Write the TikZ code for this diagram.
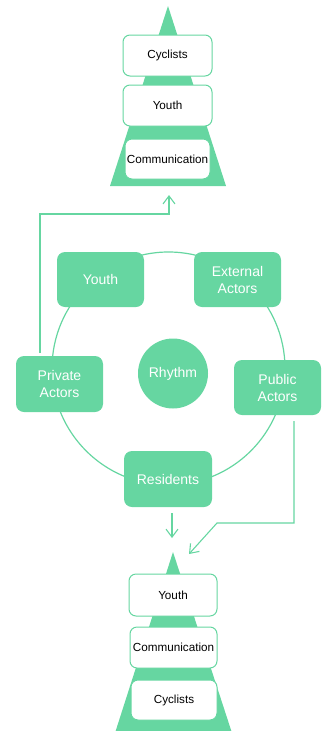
\documentclass[tikz,border=0pt]{standalone}
\usepackage{fontspec}
\setmainfont{Liberation Sans}
\usetikzlibrary{arrows.meta}
\definecolor{gr}{HTML}{66D6A1}
\tikzset{
  greenbox/.style={fill=gr, draw=none, rounded corners=8pt, text=white, font=\fontsize{14}{17}\selectfont, align=center, inner sep=0pt},
  whitebox/.style={fill=white, draw=gr, line width=1pt, rounded corners=7pt, text=black, font=\fontsize{11.7}{14}\selectfont, inner sep=0pt, minimum width=89pt, minimum height=41pt},
  conn/.style={draw=gr, line width=1.1pt, -{Straight Barb[length=8pt,width=12pt,line width=1.1pt]}},
  tri/.style={fill=gr, draw=none}
}
\begin{document}
\begin{tikzpicture}[x=1pt,y=-1pt]
\useasboundingbox (0,0) rectangle (323,731);
% top triangle
\fill[gr] (168,6) -- (226,186) -- (110,186) -- cycle;
\node[whitebox] (tc) at (167.5,55.5) {Cyclists};
\node[whitebox] (ty) at (167.5,105.5) {Youth};
\node[whitebox, minimum width=85pt, minimum height=40pt] (tm) at (167.5,159) {Communication};
% ring
\draw[gr, line width=1.2pt] (168.5,368.5) circle[radius=116.5];
\node[circle, fill=gr, text=white, font=\fontsize{14}{17}\selectfont, minimum size=70pt, inner sep=0pt] (rh) at (173,373.5) {Rhythm};
\node[greenbox, minimum width=87pt, minimum height=55pt] (yo) at (100.5,279.5) {Youth};
\node[greenbox, minimum width=87pt, minimum height=55pt] (ex) at (237.5,279.5) {External\\Actors};
\node[greenbox, minimum width=87pt, minimum height=56pt] (pr) at (59.5,384) {Private\\Actors};
\node[greenbox, minimum width=87pt, minimum height=55pt] (pu) at (277.5,387.5) {Public\\Actors};
\node[greenbox, minimum width=88pt, minimum height=56pt] (re) at (168,479) {Residents};
% bottom triangle
\fill[gr] (173,552) -- (232,733) -- (115,733) -- cycle;
\node[whitebox, minimum width=88pt, minimum height=42pt] (by) at (173,595) {Youth};
\node[whitebox, minimum width=87pt, minimum height=41pt] (bm) at (173.5,647.5) {Communication};
\node[whitebox, minimum width=86pt, minimum height=40pt] (bc) at (174,700) {Cyclists};
% connectors
\coordinate (p1) at (40,353);
\coordinate (p2) at (40,214);
\coordinate (p3) at (169,214);
\coordinate (p4) at (169,195);
\draw[conn] (p1) -- (p2) -- (p3) -- (p4);
\coordinate (r1) at (172,513);
\coordinate (r2) at (172,538);
\draw[conn] (r1) -- (r2);
\coordinate (q1) at (294,421);
\coordinate (q2) at (294,523);
\coordinate (q3) at (217,523);
\coordinate (q4) at (189,554);
\draw[conn] (q1) -- (q2) -- (q3) -- (q4);
\end{tikzpicture}
\end{document}
